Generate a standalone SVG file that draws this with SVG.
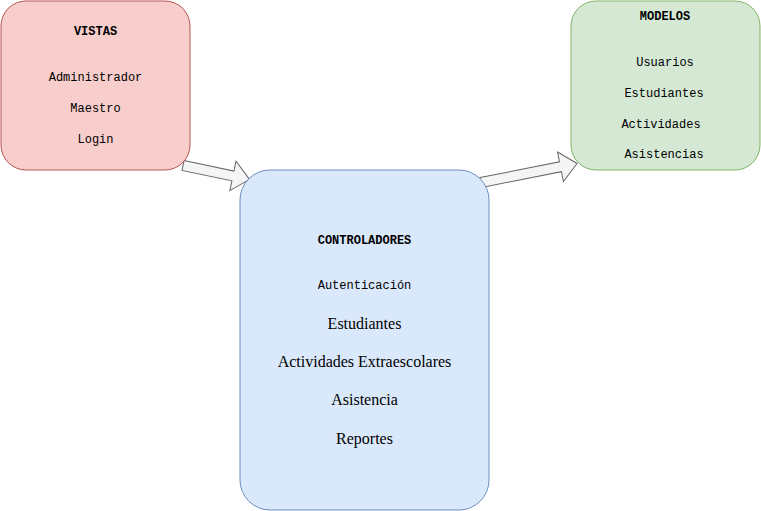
<svg xmlns="http://www.w3.org/2000/svg" width="761" height="511" viewBox="0 0 761 511">
<style>
.mono{font-family:"Liberation Mono","DejaVu Sans Mono",monospace;font-size:12px;fill:#000;text-anchor:middle}
.b{font-weight:bold}
.serif{font-family:"Liberation Serif","Times New Roman",serif;font-size:16px;fill:#000;text-anchor:middle}
.arrow{fill:#f5f5f5;stroke:#666666;stroke-width:1}
</style>
<rect width="761" height="511" fill="#ffffff"/>
<g id="connectors">
<path class="arrow" transform="translate(183,165.5) rotate(11.8)" d="M0,-5 L51,-5 L51,-15 L68,0 L51,15 L51,5 L0,5 Z"/>
<path class="arrow" transform="translate(481,182.5) rotate(-11.2)" d="M0,-5 L81,-5 L81,-15 L98,0 L81,15 L81,5 L0,5 Z"/>
</g>
<g id="vistas">
<rect x="1" y="1" width="189" height="169" rx="25" fill="#f8cecc" stroke="#b85450"/>
<text class="mono b" x="95.5" y="35">VISTAS</text>
<text class="mono" x="95.5" y="81">Administrador</text>
<text class="mono" x="95.5" y="112">Maestro</text>
<text class="mono" x="95.5" y="143">Login</text>
</g>
<g id="modelos">
<rect x="571" y="1" width="189" height="169" rx="25" fill="#d5e8d4" stroke="#82b366"/>
<text class="mono b" x="665" y="20">MODELOS</text>
<text class="mono" x="665" y="66">Usuarios</text>
<text class="mono" x="664" y="97">Estudiantes</text>
<text class="mono" x="661" y="128">Actividades</text>
<text class="mono" x="664" y="158">Asistencias</text>
</g>
<g id="controladores">
<rect x="240" y="170" width="249" height="340" rx="30" fill="#dae8fc" stroke="#6c8ebf"/>
<text class="mono b" x="364.5" y="244">CONTROLADORES</text>
<text class="mono" x="364.5" y="289">Autenticación</text>
<text class="serif" x="364.5" y="329">Estudiantes</text>
<text class="serif" x="364.5" y="367">Actividades Extraescolares</text>
<text class="serif" x="364.5" y="405">Asistencia</text>
<text class="serif" x="364.5" y="444">Reportes</text>
</g>
</svg>
